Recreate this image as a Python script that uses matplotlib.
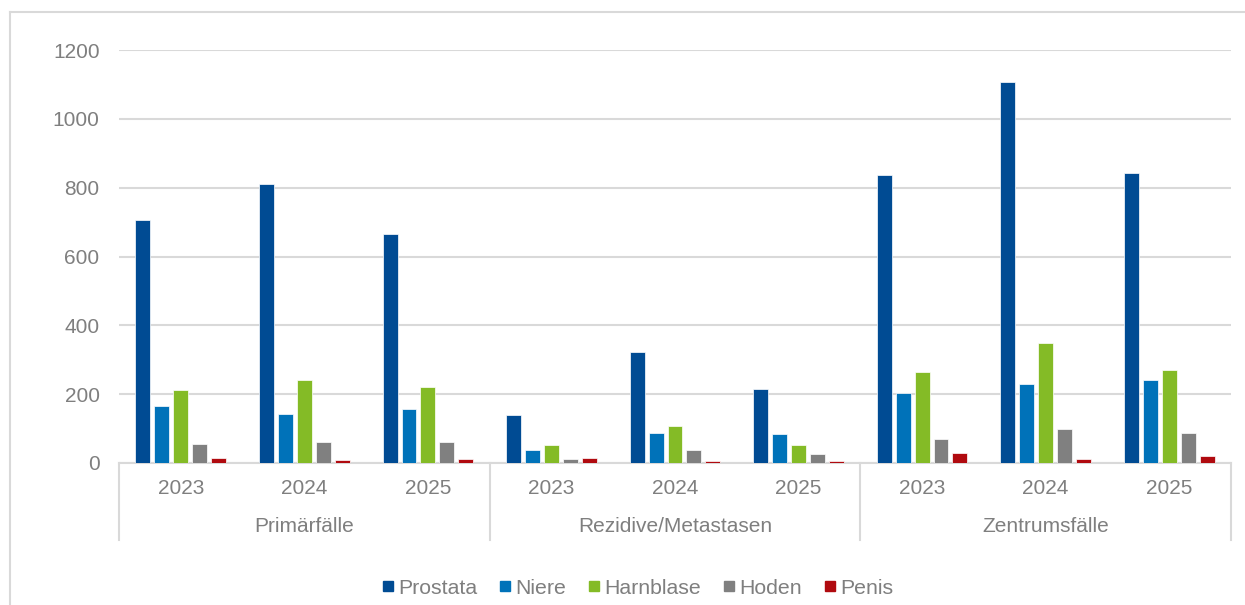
import numpy as np
import matplotlib.pyplot as plt
from matplotlib.lines import Line2D

plt.rcParams['font.family'] = ['Liberation Sans', 'DejaVu Sans']

groups = ['Primärfälle', 'Rezidive/Metastasen', 'Zentrumsfälle']
years = ['2023', '2024', '2025']
series = ['Prostata', 'Niere', 'Harnblase', 'Hoden', 'Penis']
colors = ['#004b93', '#0072b9', '#84bb26', '#808080', '#b00a0f']

prostata = [706, 810, 664, 139, 322, 215, 836, 1106, 843]
niere = [166, 141, 156, 38, 87, 84, 203, 229, 241]
harnblase = [211, 240, 220, 52, 108, 51, 264, 350, 271]
hoden = [55, 60, 61, 12, 38, 25, 69, 98, 87]
penis = [14, 8, 12, 14, 6, 7, 29, 13, 20]
values = [prostata, niere, harnblase, hoden, penis]

W, H = 1245, 605
text_col = '#7f7f7f'
grid_col = '#d9d9d9'

fig = plt.figure(figsize=(W / 100, H / 100), dpi=100)
ax = fig.add_axes([119 / W, (H - 463) / H, (1231 - 119) / W, 413 / H])

x = np.arange(len(prostata))
step, width = 0.153, 0.121
for i, (name, vals) in enumerate(zip(series, values)):
    ax.bar(x + (i - 2) * step, vals, width, color=colors[i], label=name,
           edgecolor='white', linewidth=0.5, zorder=3)

ax.set_xlim(-0.5, len(x) - 0.5)
ax.set_ylim(0, 1200)
ax.set_yticks(range(0, 1201, 200))
ax.yaxis.grid(True, color=grid_col, linewidth=1.5, zorder=0)
ax.tick_params(axis='y', length=0, pad=14, labelsize=15, labelcolor=text_col)
ax.set_xticks([])
for s in ['top', 'right', 'left']:
    ax.spines[s].set_visible(False)
ax.spines['bottom'].set_color(grid_col)
ax.spines['bottom'].set_linewidth(1.5)

# two-level category axis
trans = ax.get_xaxis_transform()
for k in x:
    ax.text(k, -26 / 413, years[k % 3], transform=trans, ha='center', va='center',
            fontsize=15, color=text_col)
for g, name in enumerate(groups):
    ax.text(3 * g + 1, -63 / 413, name, transform=trans, ha='center', va='center',
            fontsize=15, color=text_col)
for b in [-0.5, 2.5, 5.5, 8.5]:
    ax.plot([b, b], [0, -77 / 413], transform=trans, color=grid_col,
            linewidth=1.5, clip_on=False)

handles = [Line2D([], [], marker='s', ls='', color=c, markersize=7.2) for c in colors]
fig.legend(handles, series, loc='center', bbox_to_anchor=(638 / W, 1 - 588 / H),
           ncol=5, frameon=False, fontsize=15.3, labelcolor=text_col,
           handlelength=0.5, handletextpad=0.25, columnspacing=1.05)

# outer chart frame
fig.add_artist(Line2D([10 / W, 1], [1 - 12 / H, 1 - 12 / H], color=grid_col, lw=1.5))
fig.add_artist(Line2D([10 / W, 10 / W], [0, 1 - 12 / H], color=grid_col, lw=1.5))

fig.savefig('out.png', dpi=100)
